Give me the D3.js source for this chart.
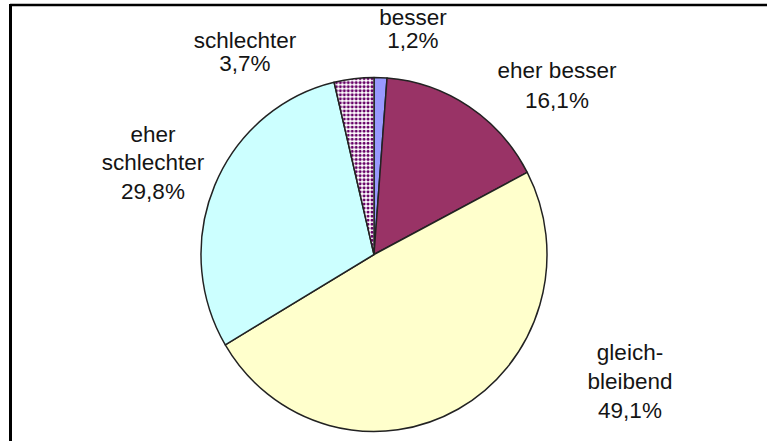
<!DOCTYPE html>
<html><head><meta charset="utf-8">
<script src="https://cdn.jsdelivr.net/npm/d3@7"></script>
<style>html,body{margin:0;padding:0;background:#fff;}svg{display:block;}</style>
</head><body>
<svg id="c" width="767" height="441"></svg>
<script>
const categories = ["besser", "eher besser", "gleichbleibend", "eher schlechter", "schlechter"];
const values = [1.2, 16.1, 49.1, 29.8, 3.7];
const labelLines = [["besser", "1,2%"], ["eher besser", "16,1%"], ["gleich-", "bleibend", "49,1%"], ["eher", "schlechter", "29,8%"], ["schlechter", "3,7%"]];
const colors = ["#9999ff", "#993366", "#ffffcc", "#ccffff", "url(#dots)"];

const svg = d3.select("#c");
const defs = svg.append("defs");
const pat = defs.append("pattern").attr("id", "dots").attr("patternUnits", "userSpaceOnUse")
  .attr("width", 4).attr("height", 4);
pat.append("rect").attr("width", 4).attr("height", 4).attr("fill", "#ffffff");
pat.append("circle").attr("cx", 2).attr("cy", 2).attr("r", 1.5).attr("fill", "#660066");

// frame
svg.append("line").attr("x1", 10).attr("x2", 767).attr("y1", 5).attr("y2", 5).attr("stroke", "#000").attr("stroke-width", 2.5);
svg.append("line").attr("x1", 10.5).attr("x2", 10.5).attr("y1", 4).attr("y2", 441).attr("stroke", "#000").attr("stroke-width", 3);

const R = 175;
const pie = d3.pie().sort(null).value(d => d)(values);
const arc = d3.arc().innerRadius(0).outerRadius(R);
const g = svg.append("g").attr("transform", `translate(374,254.5) scale(${173/R},${177/R})`);
g.selectAll("path").data(pie).join("path")
  .attr("d", arc)
  .attr("fill", (d, i) => colors[i])
  .attr("stroke", "#222")
  .attr("stroke-width", 1.5)
  .attr("stroke-linejoin", "round");

const labelPos = [[413, 17, 23], [557, 70, 30.5], [630, 352, 29], [153, 134, 28.5], [245, 40, 23]];
labelLines.forEach((lines, i) => {
  const [x, y0, dy] = labelPos[i];
  const t = svg.append("text").attr("text-anchor", "middle")
    .attr("font-family", "Liberation Sans, Arial, sans-serif").attr("font-size", 22.5).attr("fill", "#141414");
  lines.forEach((s, j) => {
    t.append("tspan").attr("x", x).attr("y", y0 + j * dy).attr("dy", "0.35em").text(s);
  });
});
</script>
</body></html>
